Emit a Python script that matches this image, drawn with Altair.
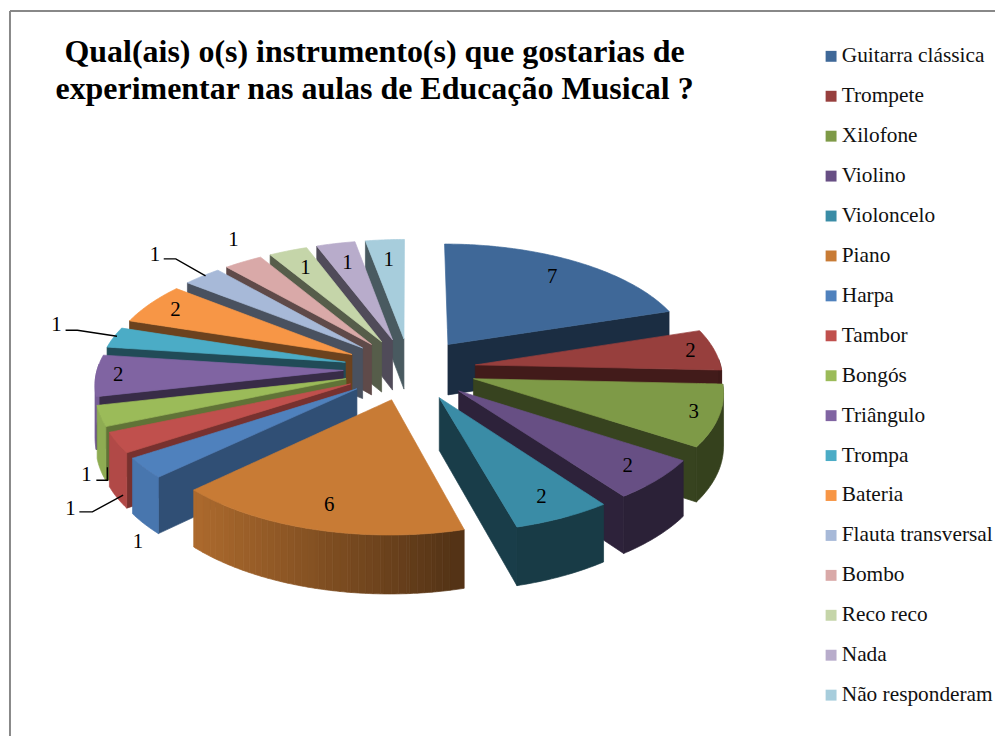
import math
import altair as alt
import pandas as pd

FONT = "Liberation Serif"
categories = ["Guitarra clássica", "Trompete", "Xilofone", "Violino", "Violoncelo", "Piano", "Harpa",
              "Tambor", "Bongós", "Triângulo", "Trompa", "Bateria", "Flauta transversal", "Bombo",
              "Reco reco", "Nada", "Não responderam"]
values = [7, 2, 3, 2, 2, 6, 1, 1, 1, 2, 1, 2, 1, 1, 1, 1, 1]
colors = ["#3F6898", "#973F3D", "#7E9A47", "#674F84", "#3A8CA6", "#C87B35", "#4F81BD", "#C0504D", "#9BBB59",
          "#8064A2", "#4BACC6", "#F79646", "#A7B9D8", "#D9A9A8", "#C5D5A9", "#B8ACCB", "#A7CDDC"]
# radial position of the labels printed on a slice (None: label outside with its own position)
label_radius = [0.80, 0.90, 0.90, 0.86, 0.84, 0.83, None, None, None, 0.91, None, 0.87, None, None, 0.80, 0.78, 0.78]
outside_labels = {6: (-1.105, 1.505), 7: (-1.379, 1.215), 8: (-1.314, 0.922), 10: (-1.436, -0.379),
                  12: (-1.036, -0.992), 13: (-0.717, -1.121)}
leaders = [[(-1.0, -0.957), (-0.951, -0.957), (-0.83, -0.81)],
           [(-1.399, -0.337), (-1.351, -0.337), (-1.19, -0.285)],
           [(-1.274, 0.966), (-1.229, 0.966), (-1.229, 0.853)],
           [(-1.343, 1.241), (-1.29, 1.241), (-1.165, 1.095)]]

EXPLODE = 0.27
PERSP = 0.10
DEPTH = 0.448
W, H = 995, 731
CX, CY, A, B = 413.0, 369.0, 248.0, 116.0


def proj(px, py):
    s = 1 / (1 - PERSP * py)
    return px * s, py * s, s


def shade(hexcol, f):
    r, g, b = int(hexcol[1:3], 16), int(hexcol[3:5], 16), int(hexcol[5:7], 16)
    return "#%02X%02X%02X" % (int(r * f), int(g * f), int(b * f))


rows = []
piece_id = [0]


def add_poly(pts, fill):
    xs = sorted(set(round(p[0], 5) for p in pts))
    n = len(pts)
    pid = piece_id[0]
    piece_id[0] += 1
    for x in xs:
        ys = []
        for i in range(n):
            (x0, y0), (x1, y1) = pts[i], pts[(i + 1) % n]
            lo, hi = min(x0, x1) - 1e-5, max(x0, x1) + 1e-5
            if lo <= x <= hi:
                if abs(x1 - x0) < 1e-5:
                    ys += [y0, y1]
                else:
                    ys.append(y0 + (y1 - y0) * (x - x0) / (x1 - x0))
        rows.append({"piece": pid, "u": x, "v": min(ys), "v2": max(ys), "fill": fill})


total = sum(values)
slices = []
cum = 0
for i, val in enumerate(values):
    t0, t1 = cum / total * 2 * math.pi, (cum + val) / total * 2 * math.pi
    cum += val
    slices.append((i, t0, t1, (t0 + t1) / 2))

label_rows = []
for i, t0, t1, mid in sorted(slices, key=lambda s: -math.cos(s[3])):
    tx, ty = EXPLODE * math.sin(mid), -EXPLODE * math.cos(mid)
    col = colors[i]
    n = max(2, int((t1 - t0) / math.radians(0.75)))
    angs = [t0 + (t1 - t0) * k / n for k in range(n + 1)]
    rim = [(tx + math.sin(a), ty - math.cos(a)) for a in angs]

    def edge(p):
        x, y, s = proj(*p)
        return (x, y), (x, y + DEPTH * s)

    tip_t, tip_b = edge((tx, ty))
    # radial cut walls
    if math.sin(t0) < -1e-6:
        a, b = edge(rim[0])
        add_poly([tip_t, a, b, tip_b], shade(col, 0.62 if math.pi < t0 < 1.4 * math.pi else 0.44))
    if math.sin(t1) > 1e-6:
        a, b = edge(rim[-1])
        add_poly([tip_t, a, b, tip_b], shade(col, 0.44))
    # outer wall, in bands of equal shade, lit from the left
    band, band_f = [], None
    for k in range(n):
        am = (angs[k] + angs[k + 1]) / 2
        visible = -math.cos(am) > -0.05
        a0, b0 = edge(rim[k])
        a1, b1 = edge(rim[k + 1])
        f = round(max(0.42, min(0.92, 0.50 - 0.42 * a0[0])) * 90) / 90
        if band and (not visible or f != band_f):
            add_poly([p[0] for p in band] + [p[1] for p in reversed(band)], shade(col, band_f))
            band = [band[-1]] if visible else []
        if visible:
            if not band:
                band = [(a0, b0)]
            band.append((a1, b1))
            band_f = f
    if band:
        add_poly([p[0] for p in band] + [p[1] for p in reversed(band)], shade(col, band_f))
    # top face
    add_poly([proj(tx, ty)[:2]] + [proj(*p)[:2] for p in rim], col)

    # value label
    if label_radius[i] is not None:
        r = label_radius[i]
        lu, lv, _ = proj(tx + r * math.sin(mid), ty - r * math.cos(mid))
    else:
        lu, lv = outside_labels[i]
    label_rows.append({"u": lu, "v": lv, "t": str(values[i])})

pie = pd.DataFrame(rows)
labels = pd.DataFrame(label_rows)
leader_df = pd.DataFrame([{"k": j, "o": m, "u": p[0], "v": p[1]}
                          for j, line in enumerate(leaders) for m, p in enumerate(line)])
legend_df = pd.DataFrame({"cat": categories, "u": [0.0] * 17, "v": [0.0] * 17})

xs = alt.Scale(domain=[(8 - CX) / A, (8 + W - CX) / A], range=[0, W], nice=False, zero=False)
ys = alt.Scale(domain=[(8 - CY) / B, (8 + H - CY) / B], range=[0, H], nice=False, zero=False)
X = alt.X("u:Q", scale=xs, axis=None)
Y = alt.Y("v:Q", scale=ys, axis=None)

legend_layer = alt.Chart(legend_df).mark_square(opacity=0, size=1).encode(
    x=X, y=Y,
    color=alt.Color("cat:N", sort=categories, scale=alt.Scale(domain=categories, range=colors),
                    legend=alt.Legend(title=None, orient="none", legendX=819, legendY=35,
                                      symbolType="square", symbolSize=121, symbolOpacity=1,
                                      symbolStrokeWidth=0, labelFont=FONT, labelFontSize=21.5,
                                      labelColor="#111111", labelOffset=0, rowPadding=17.25,
                                      labelLimit=200, columns=1)))

pie_layer = alt.Chart(pie).mark_area(strokeWidth=0.7, interpolate="linear").encode(
    x=X, y=Y, y2="v2:Q", detail="piece:N",
    fill=alt.Fill("fill:N", scale=None), stroke=alt.Stroke("fill:N", scale=None))

label_layer = alt.Chart(labels).mark_text(font=FONT, fontSize=21, color="#000000").encode(x=X, y=Y, text="t:N")

leader_layer = alt.Chart(leader_df).mark_line(color="#000000", strokeWidth=1.4).encode(
    x=X, y=Y, detail="k:N", order="o:Q")

frame_left = alt.Chart(pd.DataFrame({"k": [0]})).mark_rule(color="#888888", strokeWidth=2).encode(
    x=alt.value(2), y=alt.value(0), y2=alt.value(H))
frame_top = alt.Chart(pd.DataFrame({"k": [0]})).mark_rule(color="#888888", strokeWidth=2).encode(
    y=alt.value(0), x=alt.value(2), x2=alt.value(W))

chart = alt.layer(legend_layer, frame_left, frame_top, pie_layer, leader_layer, label_layer).properties(
    width=W, height=H, padding=0,
    autosize=alt.AutoSizeParams(type="none"),
    title=alt.TitleParams(text=["Qual(ais) o(s) instrumento(s) que gostarias de",
                                "experimentar nas aulas de Educação Musical ?"],
                          font=FONT, fontSize=32.2, fontWeight="bold", color="#000000",
                          anchor="middle", dx=-128, dy=97, lineHeight=37, offset=0),
).configure_view(stroke=None)

chart.save("out.html", embed_options={"renderer": "svg", "actions": False})
